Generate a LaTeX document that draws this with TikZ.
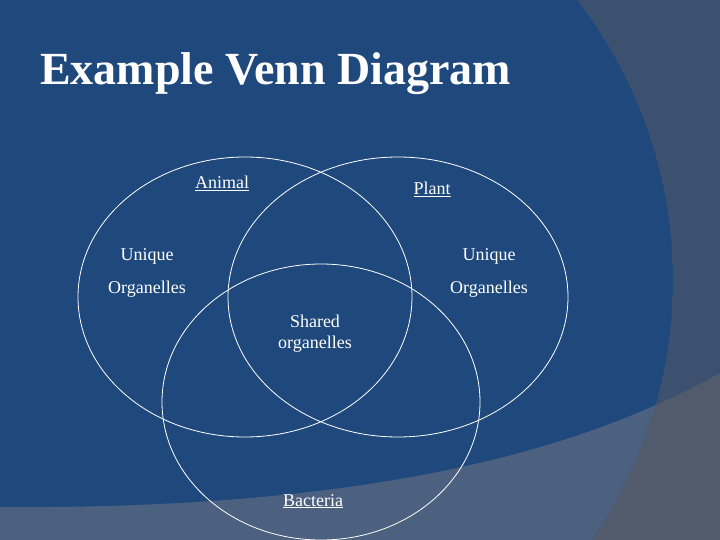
\documentclass[tikz,border=0pt]{standalone}
\usepackage{fontspec}
\setmainfont{Liberation Serif}
\definecolor{slideblue}{RGB}{31,73,125}
\definecolor{slideside}{RGB}{59,81,111}
\definecolor{slideband}{RGB}{76,97,128}
\definecolor{slidecorner}{RGB}{81,91,107}
\tikzset{
  vennline/.style={draw=white, line width=0.8pt},
  venntext/.style={text=white, inner sep=0pt, anchor=base, font=\fontsize{18}{22}\selectfont}
}
\begin{document}
\begin{tikzpicture}[x=1pt, y=-1pt]
                    \useasboundingbox (0,0) rectangle (720,540);
                    \clip (0,0) rectangle (720,540);

                    % Drawing background
                    \fill [slideside] (0,0) rectangle (720,540);%
                    \fill [slidecorner] (0,507) .. controls (400,510) and (600,440) .. (720,373) -- (720,540) -- (0,540) -- cycle;%
                    \begin{scope}
                    \clip (217,280) circle (456);
                    \fill [slideblue] (217,280) circle (456);%
                    \fill [slideband] (0,507) .. controls (400,510) and (600,440) .. (720,373) -- (720,540) -- (0,540) -- cycle;%
                    \end{scope}

                    % Drawing title
                    \node (title) [anchor=base west, inner sep=0pt, text=white, font=\fontsize{46}{50}\selectfont\bfseries] at (40,85) {Example Venn Diagram};%

                    % Drawing ellipse Animal
                    \draw [vennline] (245,297) ellipse [x radius=167, y radius=140];%

                    % Drawing ellipse Plant
                    \draw [vennline] (398,297) ellipse [x radius=170, y radius=140];%

                    % Drawing ellipse Bacteria
                    \draw [vennline] (321,402) ellipse [x radius=159, y radius=138];%

                    % Labels of the sets
                    \node (animal) [venntext] at (222,189) {\underline{Animal}};%
                    \node (plant) [venntext] at (432,195) {\underline{Plant}};%
                    \node (bacteria) [venntext] at (313,506) {\underline{Bacteria}};%

                    % Labels of the regions
                    \node (uniqueA) [venntext] at (147,260) {Unique};%
                    \node (organA) [venntext] at (147,293) {Organelles};%
                    \node (uniqueP) [venntext] at (489,260) {Unique};%
                    \node (organP) [venntext] at (489,293) {Organelles};%
                    \node (shared) [venntext] at (315,327) {Shared};%
                    \node (sharedorg) [venntext] at (315,348) {organelles};%
\end{tikzpicture}
\end{document}
